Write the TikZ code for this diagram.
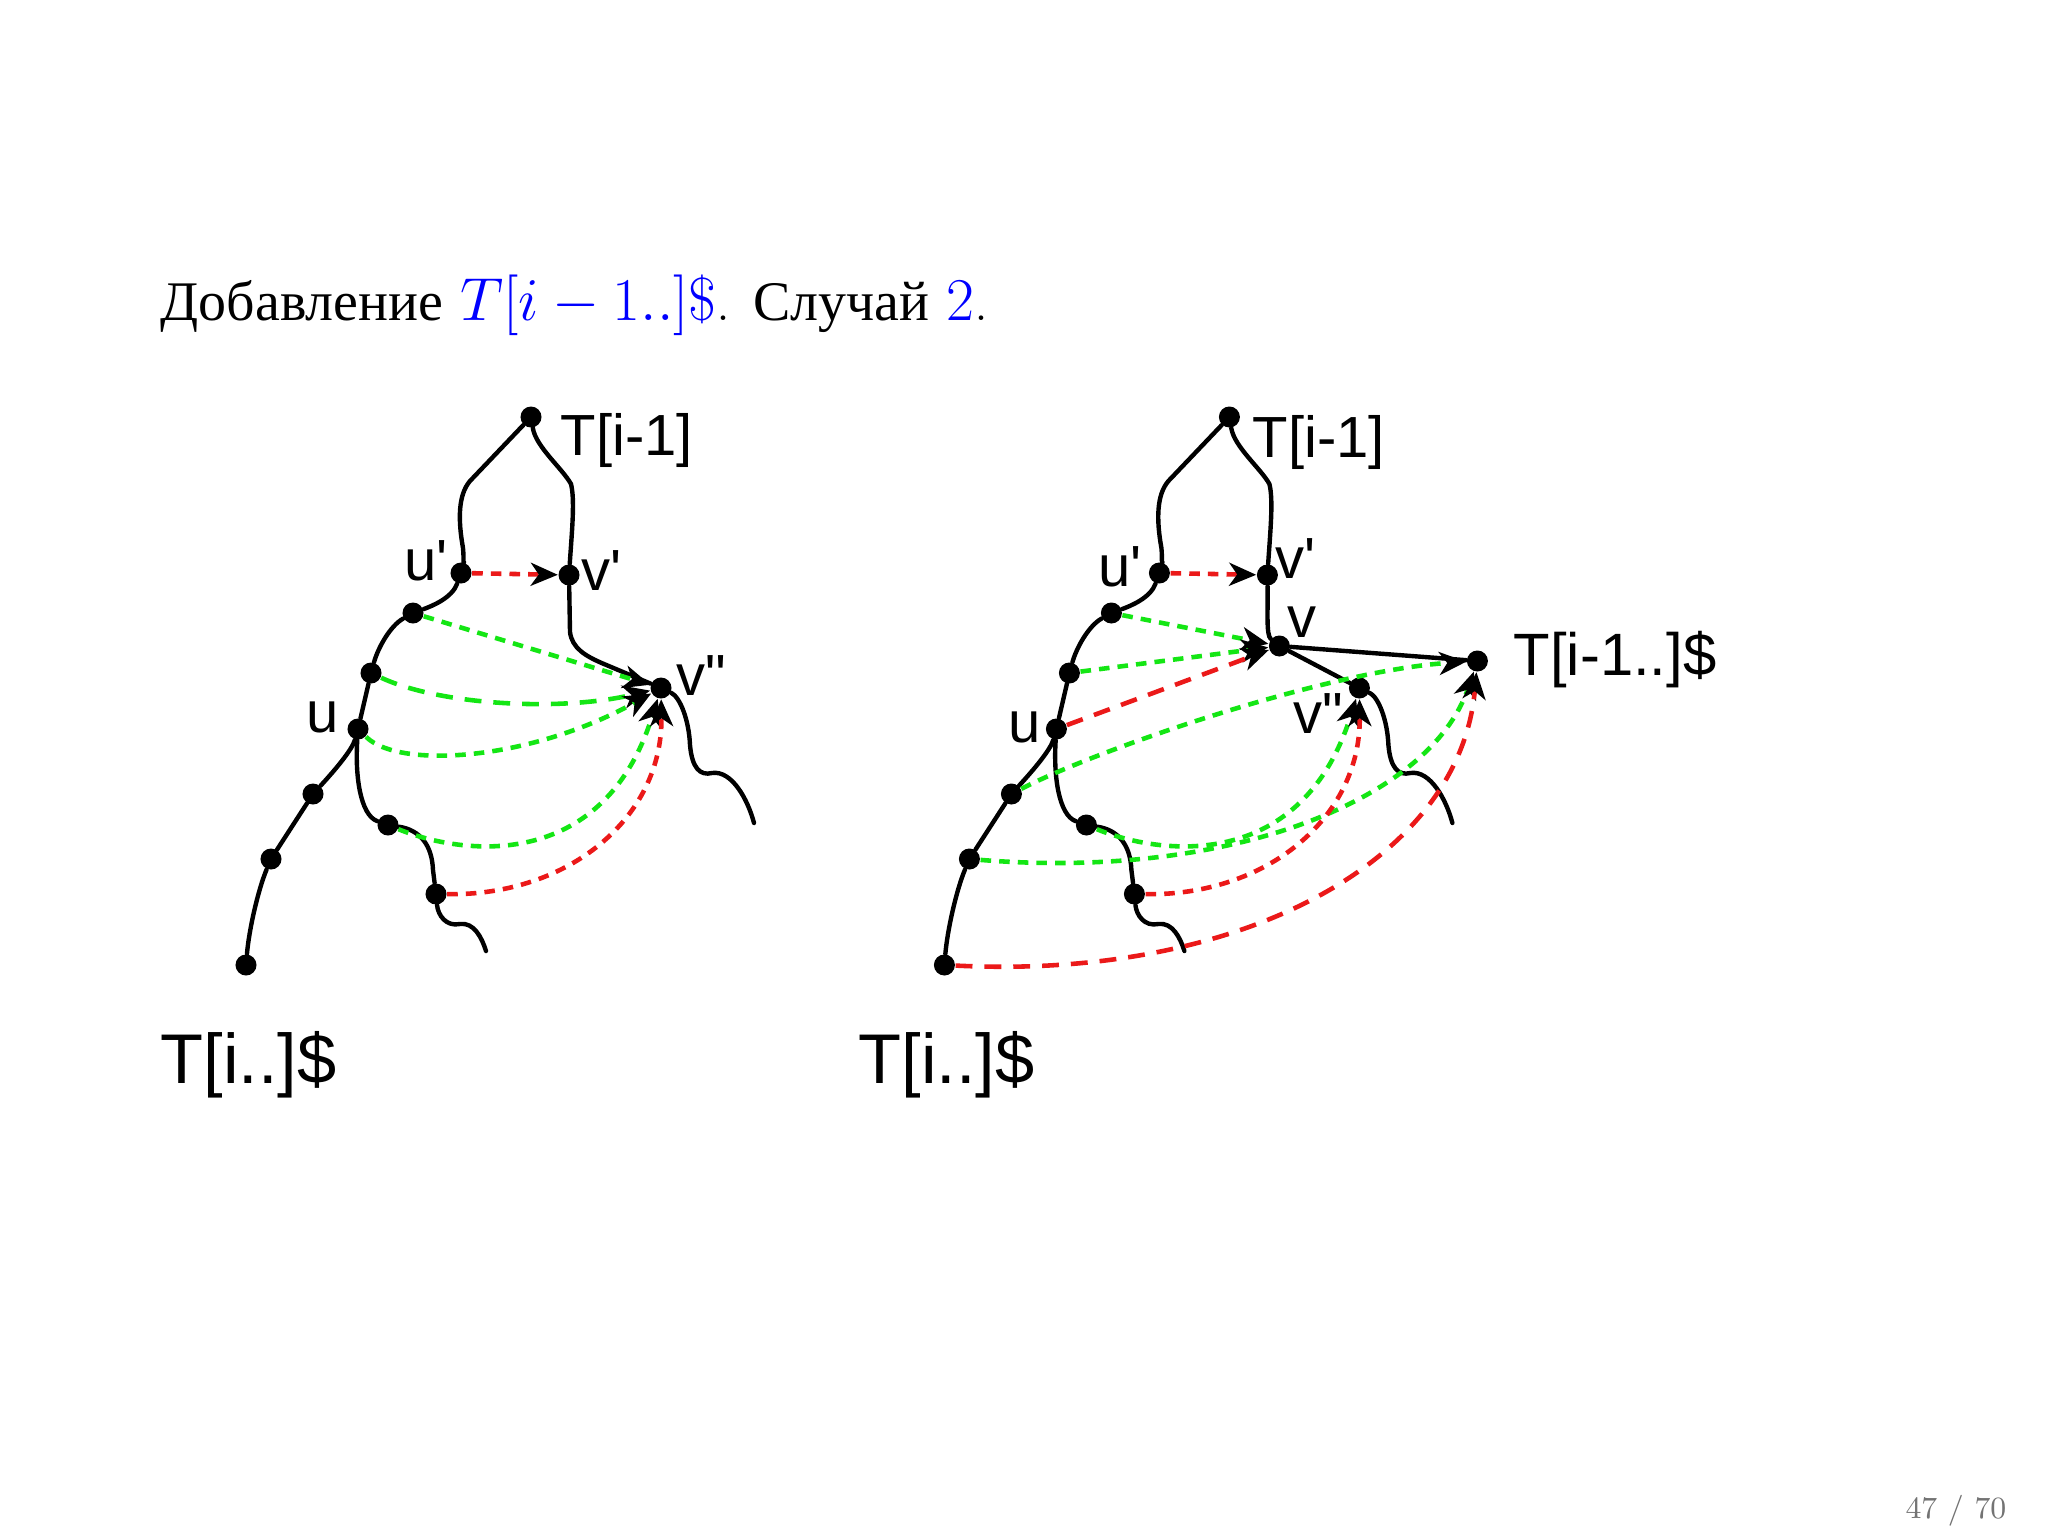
\documentclass[tikz,border=0pt]{standalone}
\usepackage{fontspec}
\usetikzlibrary{arrows.meta}
\newfontfamily\labfont{Liberation Sans}
\newfontfamily\cyrfont{Liberation Serif}
\definecolor{dgreen}{RGB}{20,230,20}
\definecolor{dred}{RGB}{235,25,25}
\newcommand{\skel}[1]{%
  \node[dot] (t#1) at (531,417) {};
  \node[dot] (up#1) at (461,573) {};
  \node[dot] (vp#1) at (569,575) {};
  \node[dot] (a#1) at (413,613) {};
  \node[dot] (b#1) at (371,673) {};
  \node[dot] (u#1) at (358,729) {};
  \node[dot] (c#1) at (313,794) {};
  \node[dot] (d#1) at (271,859) {};
  \node[dot] (e#1) at (246,965) {};
  \node[dot] (f#1) at (388,825) {};
  \node[dot] (g#1) at (436,894) {};
  \node[dot] (vpp#1) at (661,688) {};
  \draw[tree] (t#1) -- (470,481) .. controls (458,495) and (458,520) .. (463,548) .. controls (464,558) and (463,566) .. (up#1);
  \draw[tree] (t#1) .. controls (536,447) and (562,468) .. (571,484) .. controls (575,500) and (572,530) .. (vp#1);
  \draw[tree] (up#1) .. controls (452,598) and (432,606) .. (a#1);
  \draw[tree] (a#1) .. controls (390,626) and (378,648) .. (b#1) -- (u#1);
  \draw[tree] (u#1) .. controls (352,750) and (335,770) .. (c#1) -- (d#1) .. controls (258,890) and (249,930) .. (e#1);
  \draw[tree] (u#1) .. controls (355,775) and (360,815) .. (f#1);
  \draw[tree] (f#1) .. controls (420,830) and (432,845) .. (433,870) -- (g#1);
  \draw[tree] (g#1) .. controls (438,915) and (446,927) .. (460,924) .. controls (474,922) and (482,938) .. (486,951);
  \draw[tree] (vpp#1) .. controls (680,697) and (689,720) .. (690,745) .. controls (692,768) and (700,776) .. (712,773) .. controls (732,770) and (748,800) .. (754,823);
}
\begin{document}
\begin{tikzpicture}[x=0.01cm,y=-0.01cm,
  dot/.style={circle,fill=black,inner sep=0pt,minimum size=0.21cm},
  tree/.style={line width=1.25pt,line cap=round,line join=round},
  gd/.style={draw=dgreen,line width=1.3pt,dash pattern=on 3pt off 2.3pt},
  gdl/.style={draw=dgreen,line width=1.3pt,dash pattern=on 4.8pt off 3.4pt},
  rd/.style={draw=dred,line width=1.3pt,dash pattern=on 3pt off 2.3pt},
  rdl/.style={draw=dred,line width=1.3pt,dash pattern=on 4.8pt off 3.4pt},
  arr/.style={-{Stealth[length=0.27cm,width=0.23cm,inset=0.08cm,color=black]}},
  lab/.style={font=\labfont\fontsize{16.5}{18}\selectfont,inner sep=0pt,anchor=base west},
  biglab/.style={font=\labfont\fontsize{20}{22}\selectfont,inner sep=0pt,anchor=base west}]
\path[fill=white] (0,0) rectangle (2048,1536);
\useasboundingbox (0,0) rectangle (2048,1536);

% title
\node[anchor=base west,inner sep=0pt,font=\fontsize{15.9}{19}\selectfont] (title) at (160,320)
  {{\cyrfont Добавление} \textcolor{blue}{$T[i-1..]\$$}. {\cyrfont Случай} \textcolor{blue}{$2$}.};
\node[anchor=base east,inner sep=0pt,text=black!55,font=\fontsize{8.8}{10}\selectfont] (pg) at (2007,1518) {47 / 70};

% left diagram
\skel{L}
\draw[tree] (vpL) -- (570,632) .. controls (572,648) and (585,656) .. (604,664) -- (vppL);
\draw[rd,arr] (upL) -- (vpL);
\draw[gd,arr] (aL) -- (vppL);
\draw[gdl,arr] (bL) .. controls (440,705) and (560,712) .. (vppL);
\draw[gd,arr] (uL) .. controls (400,770) and (532,760) .. (vppL);
\draw[gd,arr] (fL) .. controls (470,858) and (605,868) .. (vppL);
\draw[rd,arr] (gL) .. controls (568,896) and (663,818) .. (vppL);
\node[lab] (lTL) at (560,455) {T[i-1]};
\node[lab] (lupL) at (404,580) {u'};
\node[lab] (lvpL) at (581,590) {v'};
\node[lab] (lvppL) at (676,695) {v"};
\node[lab] (luL) at (306,732) {u};
\node[biglab] (lbL) at (160,1083) {T[i..]\$};

% right diagram
\begin{scope}[xshift=6.98cm]
\skel{R}
\node[dot] (vR) at (581,646) {};
\node[dot] (ttR) at (779,661) {};
\end{scope}
\draw[tree] (vpR) .. controls (1268,610) and (1266,635) .. (vR);
\draw[tree] (vR) -- (ttR);
\draw[tree] (vR) -- (vppR);
\draw[rd,arr] (upR) -- (vpR);
\draw[gd,arr] (aR) -- (vR);
\draw[gd,arr] (bR) -- (vR);
\draw[rdl,arr] (uR) -- (vR);
\draw[gd,arr] (cR) .. controls (1092,752) and (1323,671) .. (ttR);
\draw[gd,arr] (fR) .. controls (1168,858) and (1303,868) .. (vppR);
\draw[gd,arr] (dR) .. controls (1230,880) and (1430,800) .. (ttR);
\draw[rd,arr] (gR) .. controls (1266,896) and (1361,818) .. (vppR);
\draw[rdl,arr] (eR) .. controls (1242,980) and (1460,860) .. (ttR);
\node[lab] (lTR) at (1252,457) {T[i-1]};
\node[lab] (lupR) at (1098,586) {u'};
\node[lab] (lvpR) at (1275,578) {v'};
\node[lab] (lvR) at (1287,637) {v};
\node[lab] (lvppR) at (1293,733) {v"};
\node[lab] (luR) at (1008,742) {u};
\node[lab,font=\labfont\fontsize{17}{19}\selectfont] (lttR) at (1513,675) {T[i-1..]\$};
\node[biglab] (lbR) at (858,1083) {T[i..]\$};
\end{tikzpicture}
\end{document}
